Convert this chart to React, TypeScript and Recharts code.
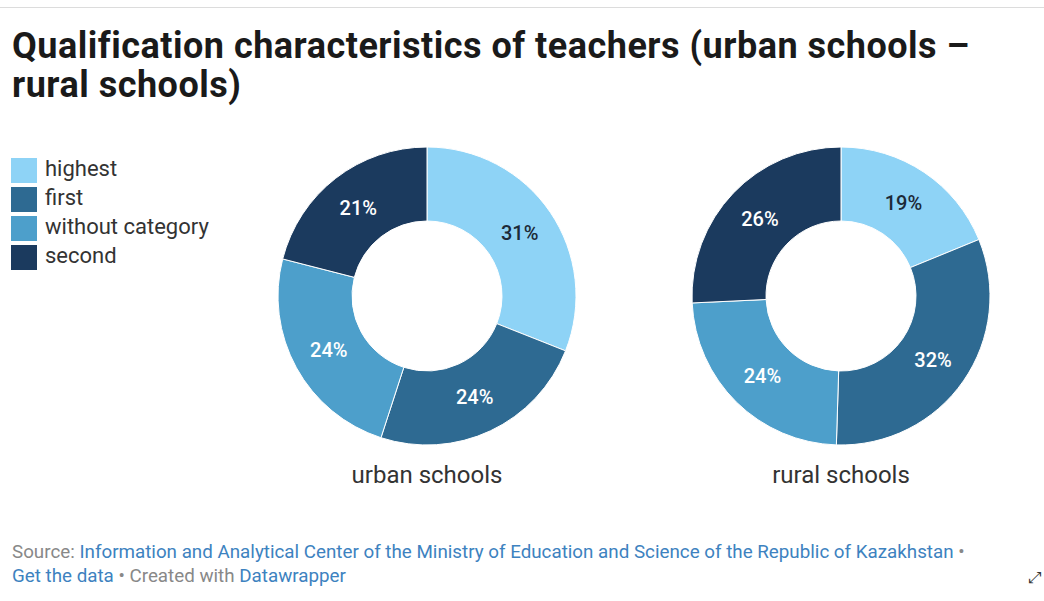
import { PieChart, Pie, Cell } from 'recharts';

const categories = ['highest', 'first', 'without category', 'second'];
const colors = ['#8ED3F6', '#2E6A92', '#4D9FCB', '#1B3A5E'];
const labelColors = ['#1c2a38', '#ffffff', '#ffffff', '#ffffff'];

const urbanValues = [31, 24, 24, 21];
const ruralValues = [19, 32, 24, 26];

const groupNames = ['urban schools', 'rural schools'];

const FONT = 'Roboto, "Noto Sans", Arial, sans-serif';
const W = 1044;
const H = 601;

const toRows = (values: number[]) =>
  categories.map((name, i) => ({ name, value: values[i] }));

const RADIAN = Math.PI / 180;

const renderLabel = (props: any) => {
  const { cx, cy, midAngle, innerRadius, outerRadius, value, index } = props;
  const r = (innerRadius + outerRadius) / 2;
  const x = cx + r * Math.cos(-midAngle * RADIAN);
  const y = cy + r * Math.sin(-midAngle * RADIAN);
  return (
    <text
      x={x}
      y={y}
      fill={labelColors[index]}
      textAnchor="middle"
      dominantBaseline="central"
      fontFamily={FONT}
      fontSize={20}
      fontWeight={500}
    >
      {`${value}%`}
    </text>
  );
};

const centers = [427, 841];
const CY = 296;

export default function App() {
  const series = [urbanValues, ruralValues];
  return (
    <div style={{ position: 'absolute', left: 0, top: 0, width: W, height: H, background: '#fff', fontFamily: FONT, overflow: 'hidden' }}>
      <div style={{ position: 'absolute', left: 0, top: 7, width: W, height: 1, background: '#dcdcdc' }} />
      <div
        style={{
          position: 'absolute',
          left: 12,
          top: 27,
          width: 1030,
          fontSize: 36,
          fontWeight: 700,
          lineHeight: '39px',
          letterSpacing: 0.5,
          color: '#1a1a1a',
        }}
      >
        Qualification characteristics of teachers (urban schools –<br />rural schools)
      </div>

      <div style={{ position: 'absolute', left: 11, top: 156 }}>
        {categories.map((c, i) => (
          <div key={c} style={{ display: 'flex', alignItems: 'center', height: 29 }}>
            <div style={{ width: 26, height: 25, background: colors[i] }} />
            <span style={{ marginLeft: 8, fontSize: 22, color: '#333', position: 'relative', top: -2 }}>{c}</span>
          </div>
        ))}
      </div>

      <div style={{ position: 'absolute', left: 0, top: 0 }}>
        <PieChart width={W} height={H} margin={{ top: 0, right: 0, bottom: 0, left: 0 }}>
          {series.map((vals, s) => (
            <Pie
              key={groupNames[s]}
              data={toRows(vals)}
              dataKey="value"
              nameKey="name"
              cx={centers[s]}
              cy={CY}
              innerRadius={75}
              outerRadius={149}
              startAngle={90}
              endAngle={-270}
              stroke="#ffffff"
              strokeWidth={1}
              label={renderLabel}
              labelLine={false}
              isAnimationActive={false}
            >
              {vals.map((_, i) => (
                <Cell key={i} fill={colors[i]} />
              ))}
            </Pie>
          ))}
        </PieChart>
      </div>

      {groupNames.map((g, s) => (
        <div
          key={g}
          style={{
            position: 'absolute',
            left: centers[s] - 150,
            width: 300,
            top: 461,
            textAlign: 'center',
            fontSize: 24,
            color: '#333',
          }}
        >
          {g}
        </div>
      ))}

      <div style={{ position: 'absolute', left: 12, top: 540, fontSize: 18.8, lineHeight: '24px', color: '#888' }}>
        Source: <span style={{ color: '#3d82c0' }}>Information and Analytical Center of the Ministry of Education and Science of the Republic of Kazakhstan</span> •
        <br />
        <span style={{ color: '#3d82c0' }}>Get the data</span> • Created with <span style={{ color: '#3d82c0' }}>Datawrapper</span>
      </div>

      <div style={{ position: 'absolute', left: 1029, top: 568, fontSize: 16, color: '#333', transform: 'rotate(90deg)' }}>⤡</div>
    </div>
  );
}
